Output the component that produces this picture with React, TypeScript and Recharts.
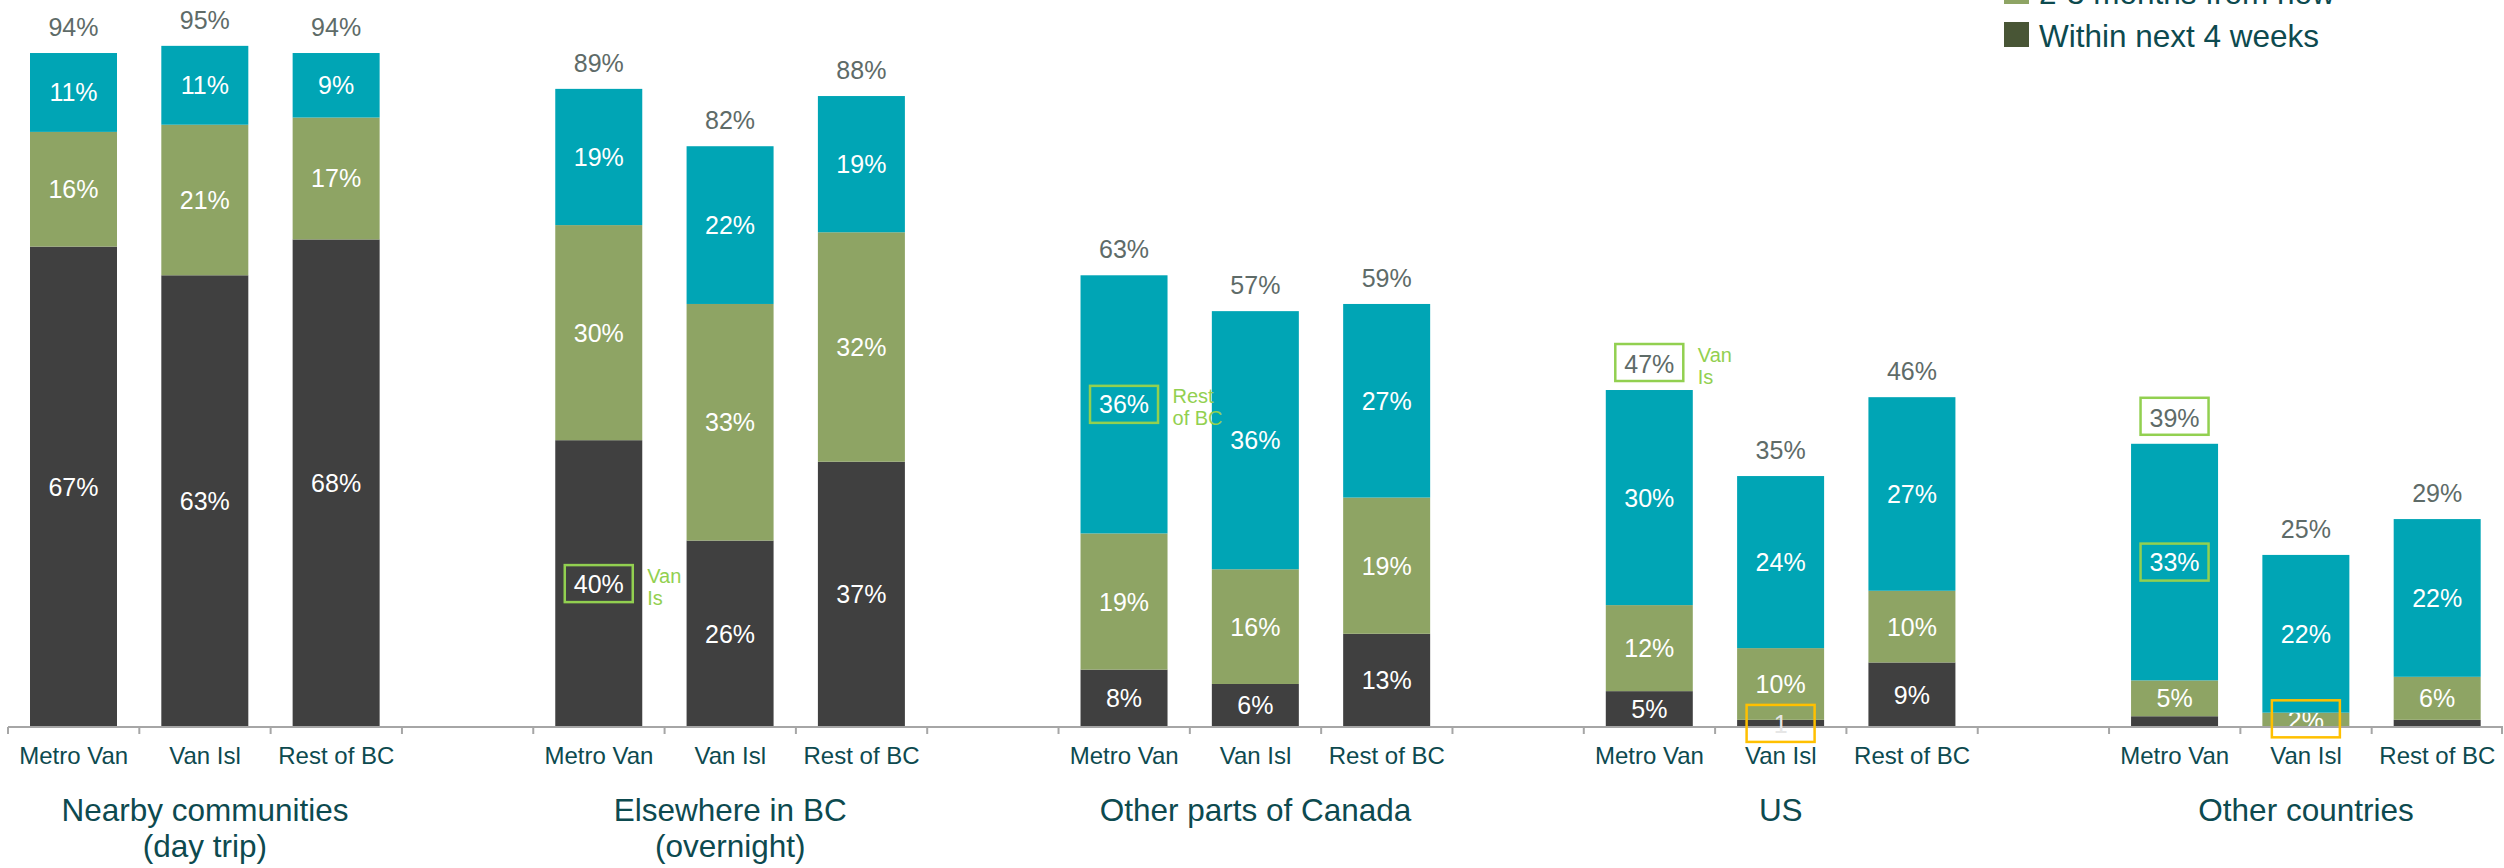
import React from "react";
import { BarChart, Bar, XAxis, YAxis, Legend, LabelList } from "recharts";

const places = ["Metro Van", "Van Isl", "Rest of BC"];
const destinations = [
  ["Nearby communities", "(day trip)"],
  ["Elsewhere in BC", "(overnight)"],
  ["Other parts of Canada"],
  ["US"],
  ["Other countries"],
];

// share of each region planning a trip, by timing (percent)
const soon = [67, 63, 68, 40, 26, 37, 8, 6, 13, 5, 1, 9, 1.5, 0, 1]; // within next 4 weeks
const mid = [16, 21, 17, 30, 33, 32, 19, 16, 19, 12, 10, 10, 5, 2, 6]; // 2-3 months from now
const later = [11, 11, 9, 19, 22, 19, 36, 36, 27, 30, 24, 27, 33, 22, 22];
const totals = [94, 95, 94, 89, 82, 88, 63, 57, 59, 47, 35, 46, 39, 25, 29];

const legendItems = [
  { label: "2-3 months from now", color: "#8EA464" },
  { label: "Within next 4 weeks", color: "#485535" },
];

// boxed values (significant differences)
const highlights = [
  { bar: 3, part: "soon", color: "#92D050", note: ["Van", "Is"] },
  { bar: 6, part: "later", color: "#92D050", note: ["Rest", "of BC"] },
  { bar: 9, part: "total", color: "#92D050", note: ["Van", "Is"] },
  { bar: 12, part: "total", color: "#92D050" },
  { bar: 12, part: "later", color: "#92D050" },
  { bar: 10, part: "soon", color: "#FFC000", text: "1" },
  { bar: 13, part: "mid", color: "#FFC000" },
];

const FONT = "'Liberation Sans', Arial, Helvetica, sans-serif";
const TEXT = "#0D4A4F";
const GREY = "#5E6B68";
const DARK = "#404040";
const GREEN = "#8EA464";
const TEAL = "#00A5B5";
const AXIS = "#A6A6A6";

const W = 2504;
const H = 868;
const LEFT = 8;
const RIGHT = 1;

const rows: any[] = [];
destinations.forEach((lines, g) => {
  if (g > 0) rows.push({ key: `gap-${g}`, gap: true });
  places.forEach((p, j) => {
    const i = g * 3 + j;
    rows.push({
      key: `${g}-${j}`,
      place: p,
      group: j === 1 ? lines : null,
      bar: i,
      soon: soon[i],
      mid: mid[i],
      later: later[i],
      total: totals[i],
    });
  });
});

const BAND = (W - LEFT - RIGHT) / rows.length;

function AxisTick({ x, y, payload }: any) {
  const idx = rows.findIndex((r) => r.key === payload.value);
  const row = rows[idx];
  const isLast = idx === rows.length - 1;
  return (
    <g>
      <line x1={x - BAND / 2} x2={x - BAND / 2} y1={y} y2={y + 7} stroke={AXIS} strokeWidth={2} />
      {isLast && (
        <line x1={x + BAND / 2 - 1} x2={x + BAND / 2 - 1} y1={y} y2={y + 7} stroke={AXIS} strokeWidth={2} />
      )}
      {row && row.place && (
        <text x={x} y={y + 37} textAnchor="middle" fontSize={24} fill={TEXT} fontFamily={FONT}>
          {row.place}
        </text>
      )}
      {row &&
        row.group &&
        row.group.map((line: string, i: number) => (
          <text key={line} x={x} y={y + 94 + i * 36} textAnchor="middle" fontSize={31.5} fill={TEXT} fontFamily={FONT}>
            {line}
          </text>
        ))}
    </g>
  );
}

const makeShape = (part: string, fill: string) => (props: any) => {
  const { x, y, width, height, payload } = props;
  if (!payload || payload.gap) return <g />;
  const v = payload[part];
  const top = Math.min(y, y + height);
  const h = Math.abs(height);
  return (
    <g>
      <rect x={x} y={top} width={width} height={h} fill={fill} />
      {v >= 2 && (
        <text x={x + width / 2} y={top + h / 2 + 9} textAnchor="middle" fontSize={25} fill="#FFFFFF" fontFamily={FONT}>
          {v}%
        </text>
      )}
    </g>
  );
};

// totals above bars + boxed highlights, drawn over all segments
function Overlay(props: any) {
  const vb = props.viewBox || props;
  if (!vb || vb.width == null) return null;
  const col = Math.floor((vb.x + vb.width / 2 - LEFT) / BAND);
  const row = rows[col];
  if (!row || row.gap) return null;
  const top = Math.min(vb.y, vb.y + vb.height);
  const h = Math.abs(vb.height);
  const k = h / row.later;
  const base = top + h + (row.soon + row.mid) * k;
  const cx = vb.x + vb.width / 2;
  const right = vb.x + vb.width;
  const centerOf = (part: string) => {
    if (part === "soon") return base - (row.soon * k) / 2;
    if (part === "mid") return base - (row.soon + row.mid / 2) * k - 1;
    if (part === "later") return top + h / 2;
    return top - 27.5;
  };
  const marks = highlights.filter((m) => m.bar === row.bar);
  return (
    <g>
      <text x={cx} y={top - 17} textAnchor="middle" fontSize={25} fill={GREY} fontFamily={FONT}>
        {row.total}%
      </text>
      {marks.map((m, i) => {
        const cy = centerOf(m.part);
        return (
          <g key={i}>
            <rect x={cx - 34} y={cy - 18.5} width={68} height={37} fill="none" stroke={m.color} strokeWidth={2.5} />
            {m.text && (
              <text x={cx} y={cy + 10} textAnchor="middle" fontSize={25} fill="#E6E6E6" fontFamily={FONT}>
                {m.text}
              </text>
            )}
            {m.note &&
              m.note.map((t, j) => (
                <text key={t} x={right + 5} y={cy - 1 + j * 22} fontSize={20} fill="#92D050" fontFamily={FONT}>
                  {t}
                </text>
              ))}
          </g>
        );
      })}
    </g>
  );
}

function LegendBox() {
  return (
    <svg width={440} height={70} style={{ display: "block", overflow: "visible" }}>
      {legendItems.map((it, i) => (
        <g key={it.label}>
          <rect x={0} y={i * 43} width={25} height={25} fill={it.color} />
          <text x={35} y={i * 43 + 25} fontSize={31.5} fill={TEXT} fontFamily={FONT}>
            {it.label}
          </text>
        </g>
      ))}
    </svg>
  );
}

export default function App() {
  return (
    <div style={{ position: "absolute", left: 0, top: 0, width: W, height: H, background: "#fff", overflow: "hidden" }}>
      <BarChart width={W} height={H} data={rows} margin={{ top: 10, right: RIGHT, left: LEFT, bottom: 0 }}>
        <XAxis
          dataKey="key"
          interval={0}
          height={141}
          tickLine={false}
          tickSize={0}
          tickMargin={0}
          axisLine={{ stroke: AXIS, strokeWidth: 2 }}
          tick={<AxisTick />}
        />
        <YAxis hide domain={[0, 100]} />
        <Legend
          layout="vertical"
          align="center"
          verticalAlign="middle"
          content={<LegendBox />}
          wrapperStyle={{ left: 2004, top: -21, width: 440 }}
        />
        <Bar dataKey="soon" name="Within next 4 weeks" stackId="a" barSize={87} fill={DARK} shape={makeShape("soon", DARK)} isAnimationActive={false} />
        <Bar dataKey="mid" name="2-3 months from now" stackId="a" barSize={87} fill={GREEN} shape={makeShape("mid", GREEN)} isAnimationActive={false} />
        <Bar dataKey="later" name="Later" stackId="a" barSize={87} fill={TEAL} shape={makeShape("later", TEAL)} isAnimationActive={false}>
          <LabelList dataKey="later" content={<Overlay />} />
        </Bar>
      </BarChart>
    </div>
  );
}
